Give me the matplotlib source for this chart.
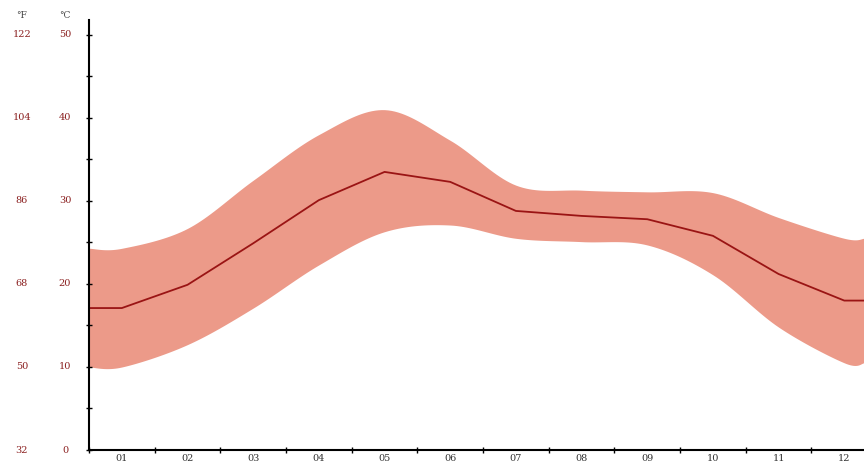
import matplotlib
matplotlib.use("Agg")
import matplotlib.pyplot as plt
import numpy as np
from matplotlib.transforms import blended_transform_factory

months = ["01", "02", "03", "04", "05", "06", "07", "08", "09", "10", "11", "12"]
mean_c = [17.1, 19.9, 24.9, 30.1, 33.5, 32.3, 28.8, 28.2, 27.8, 25.8, 21.2, 18.0]
high_c = [24.3, 26.7, 32.5, 38.0, 41.0, 37.3, 31.9, 31.3, 31.1, 31.0, 28.0, 25.5]
low_c = [10.0, 12.7, 17.1, 22.3, 26.3, 27.1, 25.5, 25.1, 24.7, 21.1, 14.8, 10.5]
c_ticks = [0, 10, 20, 30, 40, 50]
f_ticks = ["32", "50", "68", "86", "104", "122"]


def smooth(xs, ys, n=20):
    """Catmull-Rom curve through the given points (drawing only)."""
    xs = np.asarray(xs, float)
    ys = np.asarray(ys, float)
    px = np.concatenate([[xs[0]], xs, [xs[-1]]])
    py = np.concatenate([[ys[0]], ys, [ys[-1]]])
    ox, oy = [], []
    for i in range(1, len(px) - 2):
        t = np.linspace(0, 1, n, endpoint=False)
        for arr, out in ((px, ox), (py, oy)):
            p0, p1, p2, p3 = arr[i - 1], arr[i], arr[i + 1], arr[i + 2]
            out.extend(0.5 * (2 * p1 + (-p0 + p2) * t
                              + (2 * p0 - 5 * p1 + 4 * p2 - p3) * t ** 2
                              + (-p0 + 3 * p1 - 3 * p2 + p3) * t ** 3))
    ox.append(xs[-1])
    oy.append(ys[-1])
    return np.array(ox), np.array(oy)


fig = plt.figure(figsize=(8.64, 4.61), dpi=100)
ax = fig.add_axes([89/864, 1 - 450/461, 1 - 89/864, (450 - 20)/461])

x0, x1 = 0.5, 12.3
x = [x0] + list(range(1, 13)) + [x1]
ext = lambda v: [v[0]] + v + [v[-1]]

sx, slo = smooth(x, ext(low_c))
_, shi = smooth(x, ext(high_c))
ax.fill_between(sx, slo, shi, color="#ec9a89", lw=0)
ax.plot(x, ext(mean_c), color="#9a1414", lw=1.3)

ax.set_xlim(x0, x1)
ax.set_ylim(0, 51.8)
for s in ["top", "right"]:
    ax.spines[s].set_visible(False)
ax.spines["left"].set_linewidth(1.5)
ax.spines["bottom"].set_linewidth(1.5)

ax.set_yticks(range(0, 51, 5))
ax.set_yticklabels([])
ax.tick_params(axis="y", direction="inout", length=5, width=1, color="black")
ax.set_xticks([i + 0.5 for i in range(12)])
ax.set_xticklabels([])
ax.tick_params(axis="x", direction="inout", length=4, width=1, color="black")

tr = blended_transform_factory(fig.transFigure, ax.transData)
for c, f in zip(c_ticks, f_ticks):
    ax.text(65/864, c, str(c), transform=tr, ha="center", va="center",
            fontsize=7, color="#8b2020", family="DejaVu Serif")
    ax.text(22/864, c, f, transform=tr, ha="center", va="center",
            fontsize=7, color="#8b2020", family="DejaVu Serif")
fig.text(22/864, 1 - 15/461, "°F", ha="center", va="center", fontsize=6.5,
         color="#444444", family="DejaVu Serif")
fig.text(65/864, 1 - 15/461, "°C", ha="center", va="center", fontsize=6.5,
         color="#444444", family="DejaVu Serif")

trx = blended_transform_factory(ax.transData, fig.transFigure)
for i, m in enumerate(months):
    ax.text(i + 1, 1 - 458/461, m, transform=trx, ha="center", va="center",
            fontsize=7, color="#333333", family="DejaVu Serif")

fig.savefig("out.png", dpi=100)
